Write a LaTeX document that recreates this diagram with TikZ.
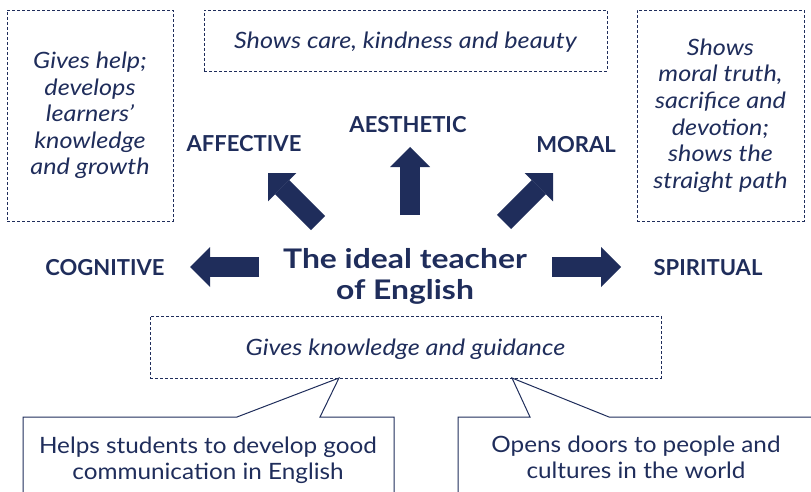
\documentclass[tikz,border=0pt]{standalone}
\usepackage{fontspec}
\setmainfont{Lato}
\newfontfamily\bodyfont{Lato}[FakeStretch=1.08]
\newfontfamily\notefont{Lato}[FakeStretch=1.12]
\newfontfamily\titlefont{Lato}[FakeStretch=1.18]
\usetikzlibrary{arrows.meta}
\definecolor{navy}{HTML}{1F2D5B}

\tikzset{
  dashbox/.style={draw=navy, line width=0.9pt, dash pattern=on 3pt off 2pt},
  note/.style={text=navy, font=\notefont\fontsize{22.5}{26.6}\selectfont\itshape, align=center},
  plaintext/.style={text=navy, font=\bodyfont\fontsize{22.5}{26}\selectfont, align=center},
  aspect/.style={text=navy, font=\fontsize{22}{26}\selectfont\bfseries},
  blockarrow/.style={navy, line width=20pt, -{Triangle[width=40pt,length=20pt,line width=0pt]}},
  callout/.style={draw=navy, line width=1pt},
}

\begin{document}
\begin{tikzpicture}[x=1pt, y=-1pt]
	\useasboundingbox (0,0) rectangle (811,492);
	% Boxes and labels:
	\node[dashbox, note, minimum width=166pt, minimum height=211pt] (affbox) at (90,115.5){Gives help;\\develops\\learners’\\knowledge\\and growth};
	\node[dashbox, note, text depth=0pt, minimum width=403pt, minimum height=61pt] (aesbox) at (405.5,40.5){Shows care, kindness and beauty};
	\node[dashbox, note, minimum width=167pt, minimum height=211pt] (morbox) at (720.5,115.5){Shows\\moral truth,\\sacrifice and\\devotion;\\shows the\\straight path};
	\node[dashbox, note, text depth=0pt, minimum width=511pt, minimum height=62pt] (cogbox) at (405.5,347){Gives knowledge and guidance};
	\node[aspect] (affective) at (244,144){AFFECTIVE};
	\node[aspect] (aesthetic) at (408,125){AESTHETIC};
	\node[aspect] (moral) at (576,145){MORAL};
	\node[aspect] (cognitive) at (105,268){COGNITIVE};
	\node[aspect] (spiritual) at (708,268){SPIRITUAL};
	\node[text=navy, font=\titlefont\fontsize{27}{31}\selectfont\bfseries, align=center] (teacher) at (405,276){The ideal teacher\\of English};
	% Block arrows:
	\coordinate (cogtail) at (259,267); \coordinate (cogtip) at (190,267);
	\coordinate (spitail) at (552,267); \coordinate (spitip) at (621,267);
	\coordinate (aestail) at (410,215); \coordinate (aestip) at (410,147);
	\coordinate (afftail) at (318,223); \coordinate (afftip) at (268,173);
	\coordinate (mortail) at (504,222); \coordinate (mortip) at (553,173);
	\draw[blockarrow] (cogtail) -- (cogtip);
	\draw[blockarrow] (spitail) -- (spitip);
	\draw[blockarrow] (aestail) -- (aestip);
	\draw[blockarrow] (afftail) -- (afftip);
	\draw[blockarrow] (mortail) -- (mortip);
	% Callouts:
	\draw[callout] (23,492) -- (23,417) -- (237,417) -- (339,378) -- (320,417) -- (394,417) -- (394,492);
	\draw[callout] (458,492) -- (458,417) -- (530,417) -- (512,378) -- (609,417) -- (811,417);
	\node[plaintext] (helps) at (208,460){Helps students to develop good\\communication in English};
	\node[plaintext] (opens) at (636,457){Opens doors to people and\\cultures in the world};
\end{tikzpicture}
\end{document}
